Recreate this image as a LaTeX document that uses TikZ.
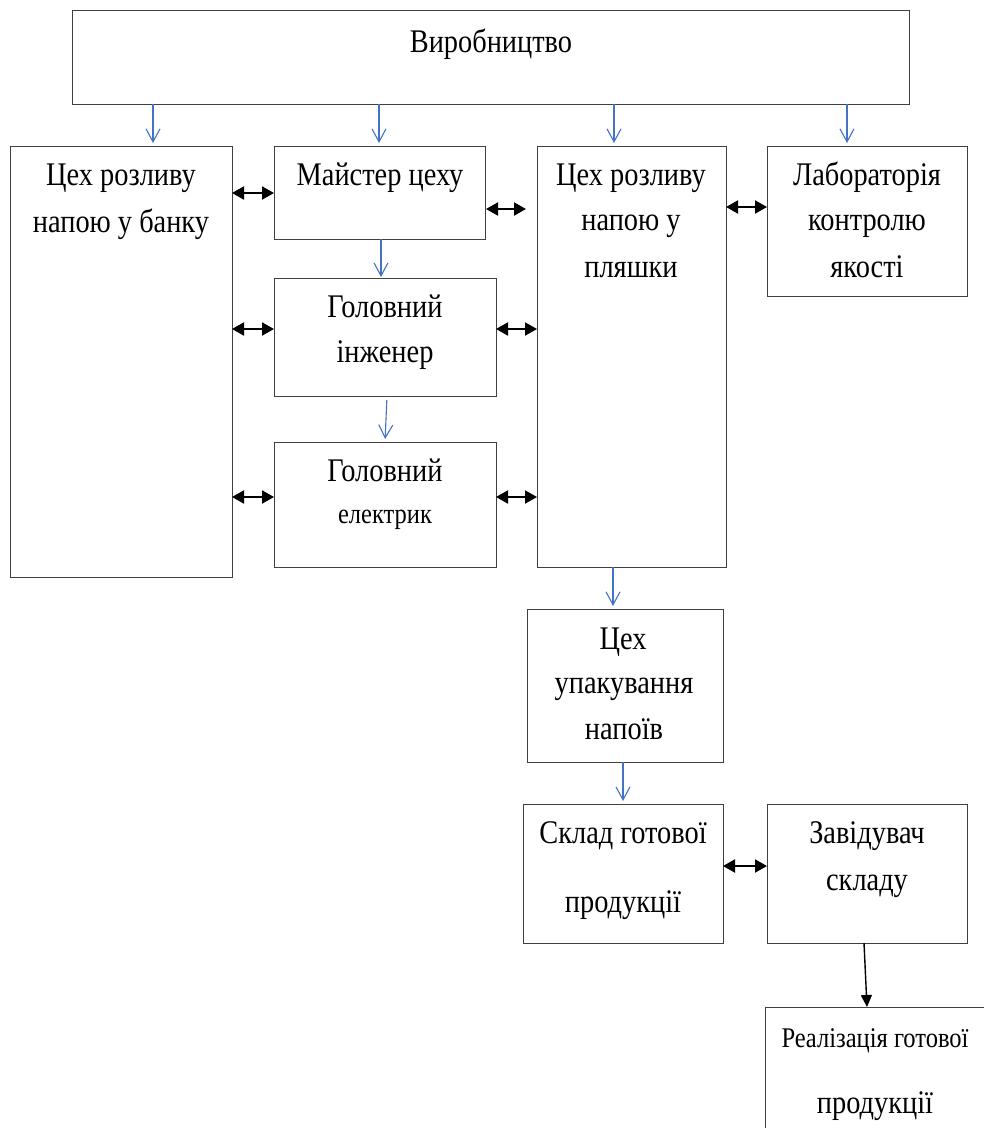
\documentclass[tikz,border=0pt]{standalone}
\usepackage{fontspec}
\setmainfont{Liberation Serif}[FakeStretch=0.86]
\usetikzlibrary{arrows.meta,calc}
\definecolor{wordblue}{RGB}{68,114,196}
\definecolor{boxline}{RGB}{64,64,64}
\tikzset{
 box/.style={draw=boxline, line width=1pt, inner sep=0pt, outer sep=0pt},
 lbl/.style={anchor=base, inner sep=0pt, font=\fontsize{33}{40}\selectfont},
 lbls/.style={anchor=base, inner sep=0pt, font=\fontsize{28.5}{34}\selectfont},
 blu/.style={draw=wordblue, line width=1.1pt, -{Straight Barb[length=13pt,width=14pt]}},
 dbl/.style={draw=black, line width=2pt, {Triangle[length=12pt,width=13pt]}-{Triangle[length=12pt,width=13pt]}},
 sgl/.style={draw=black, line width=1.4pt, -{Triangle[length=12pt,width=11pt]}},
}
\begin{document}
\begin{tikzpicture}[x=1pt,y=-1pt]
\clip (0,0) rectangle (984,1128);
\fill[white] (0,0) rectangle (984,1128);
% boxes
\node[box, minimum width=837pt, minimum height=94pt]  (prod)   at (490.5,57) {};
\node[box, minimum width=222pt, minimum height=431pt] (bank)   at (121,361.5) {};
\node[box, minimum width=211pt, minimum height=93pt]  (master) at (379.5,192.5) {};
\node[box, minimum width=189pt, minimum height=421pt] (bottle) at (631.5,356.5) {};
\node[box, minimum width=200pt, minimum height=150pt] (lab)    at (867,221) {};
\node[box, minimum width=222pt, minimum height=118pt] (eng)    at (385,337) {};
\node[box, minimum width=222pt, minimum height=125pt] (elec)   at (385,504.5) {};
\node[box, minimum width=196pt, minimum height=153pt] (pack)   at (625,685.5) {};
\node[box, minimum width=200pt, minimum height=139pt] (store)  at (623,873.5) {};
\node[box, minimum width=200pt, minimum height=139pt] (head)   at (867,873.5) {};
\node[box, minimum width=235pt, minimum height=133pt] (sale)   at (882.5,1073.5) {};
% texts
\node[lbl] (t1) at (491,52) {Виробництво};
\node[lbl] (t2a) at (121,185) {Цех розливу};
\node[lbl] (t2b) at (121,232) {напою у банку};
\node[lbl] (t3) at (380,185) {Майстер цеху};
\node[lbl] (t4a) at (631,185) {Цех розливу};
\node[lbl] (t4b) at (631,230) {напою у};
\node[lbl] (t4c) at (631,277) {пляшки};
\node[lbl] (t5a) at (867,185) {Лабораторія};
\node[lbl] (t5b) at (867,230) {контролю};
\node[lbl] (t5c) at (867,277) {якості};
\node[lbl] (t6a) at (385,317) {Головний};
\node[lbl] (t6b) at (385,362) {інженер};
\node[lbl] (t7a) at (385,481) {Головний};
\node[lbls] (t7b) at (385,523) {електрик};
\node[lbl] (t8a) at (623,649) {Цех};
\node[lbl] (t8b) at (624,693) {упакування};
\node[lbl] (t8c) at (624,739) {напоїв};
\node[lbl] (t9a) at (623,843) {Склад готової};
\node[lbl] (t9b) at (623,912) {продукції};
\node[lbl] (t10a) at (867,843) {Завідувач};
\node[lbl] (t10b) at (867,890) {складу};
\node[lbls] (t11a) at (875,1047) {Реалізація готової};
\node[lbl] (t11b) at (875,1113) {продукції};
% blue arrows
\draw[blu, shorten >=3pt] (153,0 |- prod.south) -- (153,0 |- bank.north);
\draw[blu, shorten >=3pt] (379,0 |- prod.south) -- (379,0 |- master.north);
\draw[blu, shorten >=3pt] (614,0 |- prod.south) -- (614,0 |- bottle.north);
\draw[blu, shorten >=3pt] (847,0 |- prod.south) -- (847,0 |- lab.north);
\draw[blu, shorten >=1pt] (381,0 |- master.south) -- (381,0 |- eng.north);
\draw[blu, shorten <=4pt, shorten >=3pt] (387,0 |- eng.south) -- (385,0 |- elec.north);
\draw[blu, shorten >=3pt] (613,0 |- bottle.south) -- (613,0 |- pack.north);
\draw[blu, shorten >=3pt] (623,0 |- pack.south) -- (623,0 |- store.north);
% black double arrows
\draw[dbl] (bank.east |- 0,193) -- (master.west |- 0,193);
\draw[dbl, shorten <=1pt, shorten >=11pt] (master.east |- 0,209) -- (bottle.west |- 0,209);
\draw[dbl] (bottle.east |- 0,207) -- (lab.west |- 0,207);
\draw[dbl] (bank.east |- 0,329) -- (eng.west |- 0,329);
\draw[dbl] (eng.east |- 0,329) -- (bottle.west |- 0,329);
\draw[dbl] (bank.east |- 0,497) -- (elec.west |- 0,497);
\draw[dbl] (elec.east |- 0,497) -- (bottle.west |- 0,497);
\draw[dbl] (store.east |- 0,866) -- (head.west |- 0,866);
% black single arrow
\draw[sgl] (864,0 |- head.south) -- (867,0 |- sale.north);
\end{tikzpicture}
\end{document}
